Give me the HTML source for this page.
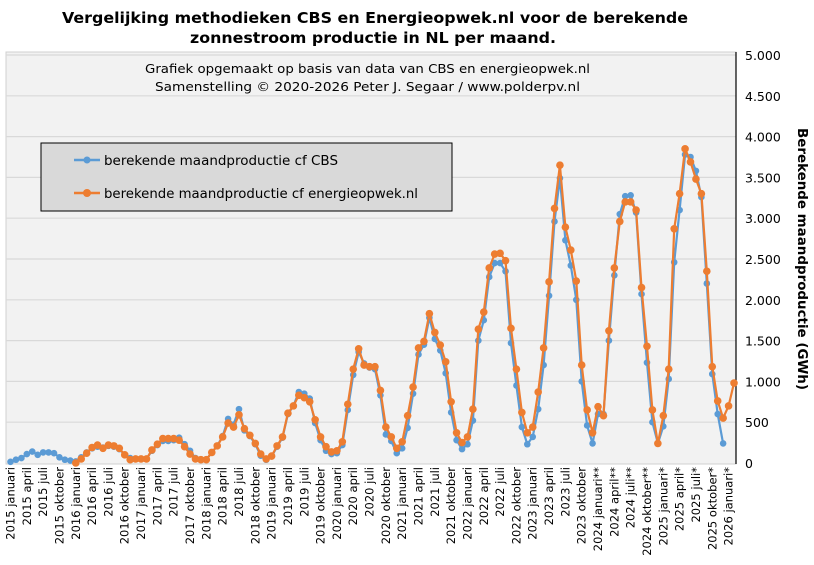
<!DOCTYPE html>
<html><head><meta charset="utf-8"><style>
html,body{margin:0;padding:0;background:#fff;}
body{width:814px;height:561px;overflow:hidden;font-family:"DejaVu Sans",sans-serif;}
</style></head><body>
<svg id="s" width="814" height="561" xmlns="http://www.w3.org/2000/svg" font-family="DejaVu Sans, Liberation Sans, sans-serif">
<rect x="6" y="52" width="730" height="412" fill="#f2f2f2" stroke="#d0d0d0"/>
<g id="grid"></g>
<line x1="736" y1="52" x2="736" y2="464" stroke="#000" stroke-width="1.2"/>
<text x="62" y="23" font-size="15.5" font-weight="bold" textLength="626" lengthAdjust="spacingAndGlyphs">Vergelijking  methodieken  CBS en Energieopwek.nl  voor de berekende</text>
<text x="190" y="43" font-size="15.5" font-weight="bold" textLength="366" lengthAdjust="spacingAndGlyphs">zonnestroom productie in NL per maand.</text>
<text x="145" y="73" font-size="12" textLength="445" lengthAdjust="spacingAndGlyphs">Grafiek  opgemaakt  op basis  van data van CBS  en energieopwek.nl</text>
<text x="155" y="91" font-size="12" textLength="425" lengthAdjust="spacingAndGlyphs">Samenstelling  © 2020-2026  Peter J. Segaar / www.polderpv.nl</text>
<g id="series"></g>
<rect x="41" y="143" width="411" height="68" fill="#d9d9d9" stroke="#000" stroke-width="1"/>
<line x1="74" y1="160" x2="100" y2="160" stroke="#5b9bd5" stroke-width="2.5"/><circle cx="87" cy="160" r="3.5" fill="#5b9bd5"/>
<text x="104" y="165" font-size="13" textLength="234" lengthAdjust="spacingAndGlyphs">berekende maandproductie cf CBS</text>
<line x1="74" y1="193" x2="100" y2="193" stroke="#ed7d31" stroke-width="2.5"/><circle cx="87" cy="193" r="4" fill="#ed7d31"/>
<text x="104" y="198" font-size="13" textLength="314" lengthAdjust="spacingAndGlyphs">berekende maandproductie cf energieopwek.nl</text>
<text transform="translate(798,128) rotate(90)" font-size="13" font-weight="bold" textLength="262" lengthAdjust="spacingAndGlyphs">Berekende  maandproductie  (GWh)</text>
<g id="ticks"></g>
</svg>
<script>
var ns="http://www.w3.org/2000/svg";
function el(p,t,a,txt){var e=document.createElementNS(ns,t);for(var k in a)e.setAttribute(k,a[k]);if(txt!=null)e.textContent=txt;document.getElementById(p).appendChild(e);return e;}
function Y(v){return 463-v*408/5000;}
function X(i){return 10.5+i*5.44;}
for(var v=0;v<=5000;v+=500){var y=Y(v);
 if(v>0)el("grid","line",{x1:6,x2:736,y1:y,y2:y,stroke:"#d9d9d9","stroke-width":1.2});
 var s=v==0?"0":(v>=1000?Math.floor(v/1000)+"."+String(v%1000).padStart(3,"0"):String(v));
 el("ticks","text",{x:745,y:y+5,"font-size":"12.5"},s);}
var blue=[15,40,60,110,140,100,130,130,120,70,40,30,
20,70,130,180,200,190,210,200,170,100,60,50,
50,50,150,220,270,270,280,310,230,150,60,40,
40,130,210,330,540,470,660,400,330,230,90,40,
80,200,310,600,700,870,850,790,490,280,150,110,
120,220,650,1080,1360,1220,1170,1150,830,350,270,120,
180,430,850,1330,1450,1780,1520,1380,1100,620,280,170,
230,520,1500,1750,2280,2450,2450,2350,1470,950,440,230,
320,660,1200,2050,2960,3490,2730,2420,2000,1000,460,240,
600,600,1500,2300,3050,3270,3280,3070,2070,1230,500,240,
450,1030,2460,3100,3780,3750,3580,3260,2200,1090,600,240];
var orange=[];for(var i=0;i<12;i++)orange.push(null);
orange=orange.concat([0,50,120,190,220,180,220,210,180,100,40,50,
50,50,160,230,300,300,300,280,200,110,50,40,
40,130,210,320,490,440,590,420,340,240,110,50,
85,210,320,610,700,830,800,750,530,320,200,135,
150,260,720,1150,1400,1200,1180,1180,890,440,320,180,
260,580,930,1410,1490,1830,1600,1445,1240,750,370,250,
320,660,1640,1850,2390,2560,2570,2480,1650,1150,620,370,
440,870,1410,2220,3120,3650,2890,2610,2230,1200,650,370,
690,580,1620,2390,2960,3200,3200,3100,2150,1430,650,240,
580,1150,2870,3300,3850,3690,3480,3300,2350,1180,760,550,
700,980]);
function draw(d,c,r){var pts=[];d.forEach(function(v,i){if(v!=null)pts.push(X(i).toFixed(1)+","+Y(v).toFixed(1));});
 el("series","polyline",{points:pts.join(" "),fill:"none",stroke:c,"stroke-width":2.2,"stroke-linejoin":"round"});
 d.forEach(function(v,i){if(v!=null)el("series","circle",{cx:X(i),cy:Y(v),r:r,fill:c});});}
draw(blue,"#5b9bd5",3.3);draw(orange,"#ed7d31",3.8);
var mn=["januari","april","juli","oktober"];
for(var i=0;i<=132;i+=3){var yr=2015+Math.floor(i/12),m=mn[(i%12)/3];
 var suf=yr==2024?"**":(yr>=2025?"*":"");
 var x=X(i)+4;
 el("ticks","text",{transform:"translate("+x+",467) rotate(-90)","text-anchor":"end","font-size":"11.5"},yr+" "+m+suf);}
</script>
</body></html>
